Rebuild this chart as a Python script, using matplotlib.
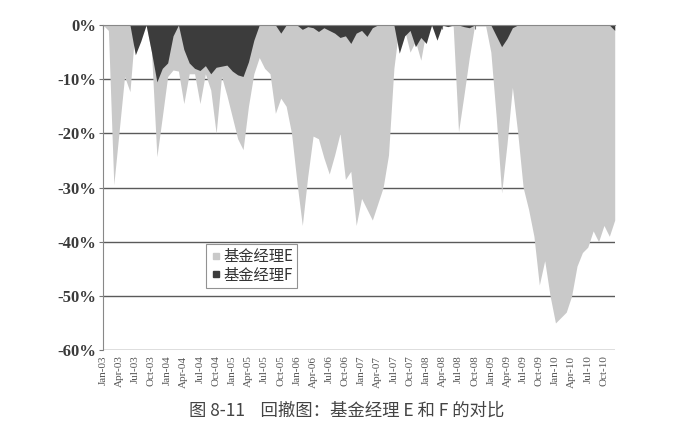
import matplotlib
matplotlib.use('Agg')
import matplotlib.pyplot as plt
from matplotlib.lines import Line2D

# 月度回撤 (%), 2003-01 ~ 2010-12
months = ['Jan', 'Feb', 'Mar', 'Apr', 'May', 'Jun', 'Jul', 'Aug', 'Sep', 'Oct', 'Nov', 'Dec']
years = ['03', '04', '05', '06', '07', '08', '09', '10']
labels = [m + '-' + y for y in years for m in months]

dd_e = [0, -1, -29.5, -19.5, -9.5, -12.3, 0, 0, 0, -5, -24.3, -17,
        -9.5, -8.3, -8.5, -14.5, -9, -9, -14.5, -9, -12, -20, -9.5, -13,
        -17, -21, -23, -15, -9, -6, -8, -9, -16.3, -13.5, -15, -20,
        -29, -37, -28, -20.5, -21, -24.5, -27.5, -24, -20, -28.5, -27, -37,
        -32, -34, -36, -33, -30, -24, -8, 0, -1, -5, -3, -6.5,
        -1, 0, -1, 0, 0, 0, -19.7, -13, -6, 0, 0, 0,
        -5, -17, -31, -22, -11.5, -20, -30, -34, -39, -48, -43.5, -50,
        -55, -54, -53, -50, -44.5, -42, -41, -38, -40, -37, -39, -36]

dd_f = [0, 0, 0, 0, 0, 0, -5.5, -3, 0, -5, -10.5, -8,
        -7, -2, 0, -4.5, -7, -8, -8.4, -7.5, -9, -7.8, -7.6, -7.4,
        -8.5, -9.2, -9.5, -6.8, -2.8, 0, 0, 0, 0, -1.5, 0, 0,
        0, -0.8, -0.3, -0.5, -1.2, -0.5, -1, -1.5, -2.3, -2, -3.4, -1.5,
        -1, -2.1, -0.5, 0, 0, 0, 0, -5.2, -2, -1, -4, -2.3,
        -3.4, 0, -2.8, 0, -0.3, 0, 0, -0.3, -0.5, 0, 0, 0,
        0, -2, -4, -2.5, -0.5, 0, 0, 0, 0, 0, 0, 0,
        0, 0, 0, 0, 0, 0, 0, 0, 0, 0, 0, -1]

x = list(range(len(labels)))

fig = plt.figure(figsize=(6.8, 4.42), dpi=100)
ax = fig.add_axes([0.1515, 0.208, 0.7525, 0.7354])

c_e = '#c9c9c9'
c_f = '#3c3c3c'
ax.fill_between(x, dd_e, 0, color=c_e, lw=0, zorder=2)
ax.fill_between(x, dd_f, 0, color=c_f, lw=0, zorder=3)

ax.set_xlim(0, len(labels) - 1)
ax.set_ylim(-60, 0)
yt = list(range(-60, 1, 10))
ax.set_yticks(yt)
ax.set_yticklabels(['%d%%' % v for v in yt], fontfamily='Liberation Serif',
                   fontweight='bold', fontsize=12, color='#3a3a3a')
ax.yaxis.grid(True, color='#5a5a5a', lw=1.0, zorder=1)
ax.set_axisbelow(True)

ax.set_xticks(x[::3])
ax.set_xticklabels(labels[::3], rotation=90, fontfamily='Liberation Serif',
                   fontsize=8, color='#555555')
ax.tick_params(axis='x', bottom=False, top=True, direction='in', length=3,
               color='#777777', labelbottom=True, pad=4)
ax.tick_params(axis='y', length=3, color='#777777', pad=2)

for s in ['right', 'bottom']:
    ax.spines[s].set_visible(False)
ax.spines['left'].set_color('#888888')
ax.spines['top'].set_color('#888888')
ax.spines['top'].set_zorder(5)

handles = [Line2D([], [], marker='s', ls='', color=c_e, markersize=4),
           Line2D([], [], marker='s', ls='', color=c_f, markersize=4)]
leg = ax.legend(handles, ['基金经理E', '基金经理F'], loc='upper left',
                bbox_to_anchor=(0.201, 0.325), frameon=True, fancybox=False,
                prop={'family': ['Noto Sans CJK SC', 'DejaVu Sans'], 'size': 11},
                handletextpad=0.1, handlelength=0.8, borderpad=0.25,
                labelspacing=0.1, borderaxespad=0)
leg.get_frame().set_edgecolor('#777777')
leg.get_frame().set_linewidth(0.8)
for t in leg.get_texts():
    t.set_color('#333333')

fig.text(0.51, 0.072, '图 8-11    回撤图：基金经理 E 和 F 的对比', ha='center', va='center',
         fontsize=12.5, color='#444444', family=['Noto Sans CJK SC', 'DejaVu Sans'])

fig.savefig('out.png', dpi=100)
